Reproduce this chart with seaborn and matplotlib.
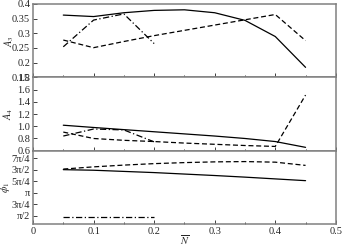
import numpy as np
import pandas as pd
import seaborn as sns
import matplotlib.pyplot as plt
from matplotlib.ticker import MultipleLocator

# data
n_bar = [0.05, 0.10, 0.15, 0.20, 0.25, 0.30, 0.35, 0.40, 0.45]
n_short = [0.05, 0.10, 0.15, 0.20]

a3_solid = [0.362, 0.357, 0.370, 0.378, 0.380, 0.370, 0.344, 0.289, 0.184]
a3_dashed = [0.277, 0.251, 0.272, 0.292, 0.310, 0.328, 0.346, 0.364, 0.275]
a3_dashdot = [0.254, 0.345, 0.366, 0.265]

a4_solid = [1.017, 0.980, 0.945, 0.910, 0.875, 0.840, 0.800, 0.750, 0.655]
a4_dashed = [0.905, 0.800, 0.770, 0.750, 0.725, 0.705, 0.685, 0.670, 1.510]
a4_dashdot = [0.840, 0.955, 0.940, 0.745]

phi_solid = [4.71, 4.67, 4.59, 4.51, 4.41, 4.31, 4.20, 4.08, 3.96]
phi_dashed = [4.75, 4.90, 5.02, 5.12, 5.19, 5.24, 5.26, 5.22, 5.00]
phi_dashdot = [1.48, 1.48, 1.48, 1.48]

phi_ticks = [np.pi / 2, 3 * np.pi / 4, np.pi, 5 * np.pi / 4, 3 * np.pi / 2, 7 * np.pi / 4]
phi_labels = ['π/2', '3π/4', 'π', '5π/4', '3π/2', '7π/4']
a3_ticks = [0.15, 0.2, 0.25, 0.3, 0.35, 0.4]
a3_labels = ['0.15', '0.2', '0.25', '0.3', '0.35', '0.4']
a4_ticks = [0.6, 0.8, 1.0, 1.2, 1.4, 1.6, 1.8]
a4_labels = ['0.6', '0.8', '1.0', '1.2', '1.4', '1.6', '1.8']
x_ticks = [0, 0.1, 0.2, 0.3, 0.4, 0.5]
x_labels = ['0', '0.1', '0.2', '0.3', '0.4', '0.5']

sns.set_style('ticks')
plt.rcParams['font.family'] = ['Liberation Serif', 'DejaVu Serif']
plt.rcParams['mathtext.fontset'] = 'stix'
plt.rcParams['font.size'] = 7.5

frame = '#808080'
solid = '-'
dashed = (0, (4, 2.2))
dashdot = (0, (5, 2, 1, 2))

fig, axes = plt.subplots(3, 1, sharex=True, figsize=(3.42, 2.46), dpi=100)
fig.subplots_adjust(left=0.0965, right=0.982, top=0.984, bottom=0.089, hspace=0)

panels = [
    (axes[0], a3_solid, a3_dashed, a3_dashdot, (0.15, 0.4), a3_ticks, a3_labels, '$A_3$', -0.056),
    (axes[1], a4_solid, a4_dashed, a4_dashdot, (0.6, 1.8), a4_ticks, a4_labels, '$A_4$', -0.059),
    (axes[2], phi_solid, phi_dashed, phi_dashdot, (1.0, 6.0), phi_ticks, phi_labels, r'$\phi_1$', -0.071),
]

for ax, ys, yd, ydd, ylim, yt, yl, lab, lx in panels:
    sns.lineplot(x=n_bar, y=ys, ax=ax, color='k', lw=0.9, linestyle=solid)
    sns.lineplot(x=n_bar, y=yd, ax=ax, color='k', lw=0.9, linestyle=dashed)
    sns.lineplot(x=n_short, y=ydd, ax=ax, color='k', lw=0.9, linestyle=dashdot)
    ax.set_ylim(*ylim)
    ax.set_yticks(yt)
    ax.set_yticklabels(yl)
    ax.set_ylabel(lab, fontsize=7.5)
    ax.yaxis.set_label_coords(lx, 0.5)
    for s in ax.spines.values():
        s.set_color(frame)
        s.set_linewidth(1.1)
    ax.tick_params(direction='in', length=3, width=0.7, color='#404040', pad=2)
    ax.tick_params(which='minor', direction='in', length=1.8, width=0.7, color='#404040', left=False)
    ax.xaxis.set_minor_locator(MultipleLocator(0.05))

axes[2].set_xlim(0, 0.5)
axes[2].set_xticks(x_ticks)
axes[2].set_xticklabels(x_labels)
axes[2].set_xlabel(r'$\overline{N}$', fontsize=7.5, labelpad=-2)

plt.savefig('out.png', dpi=100)
